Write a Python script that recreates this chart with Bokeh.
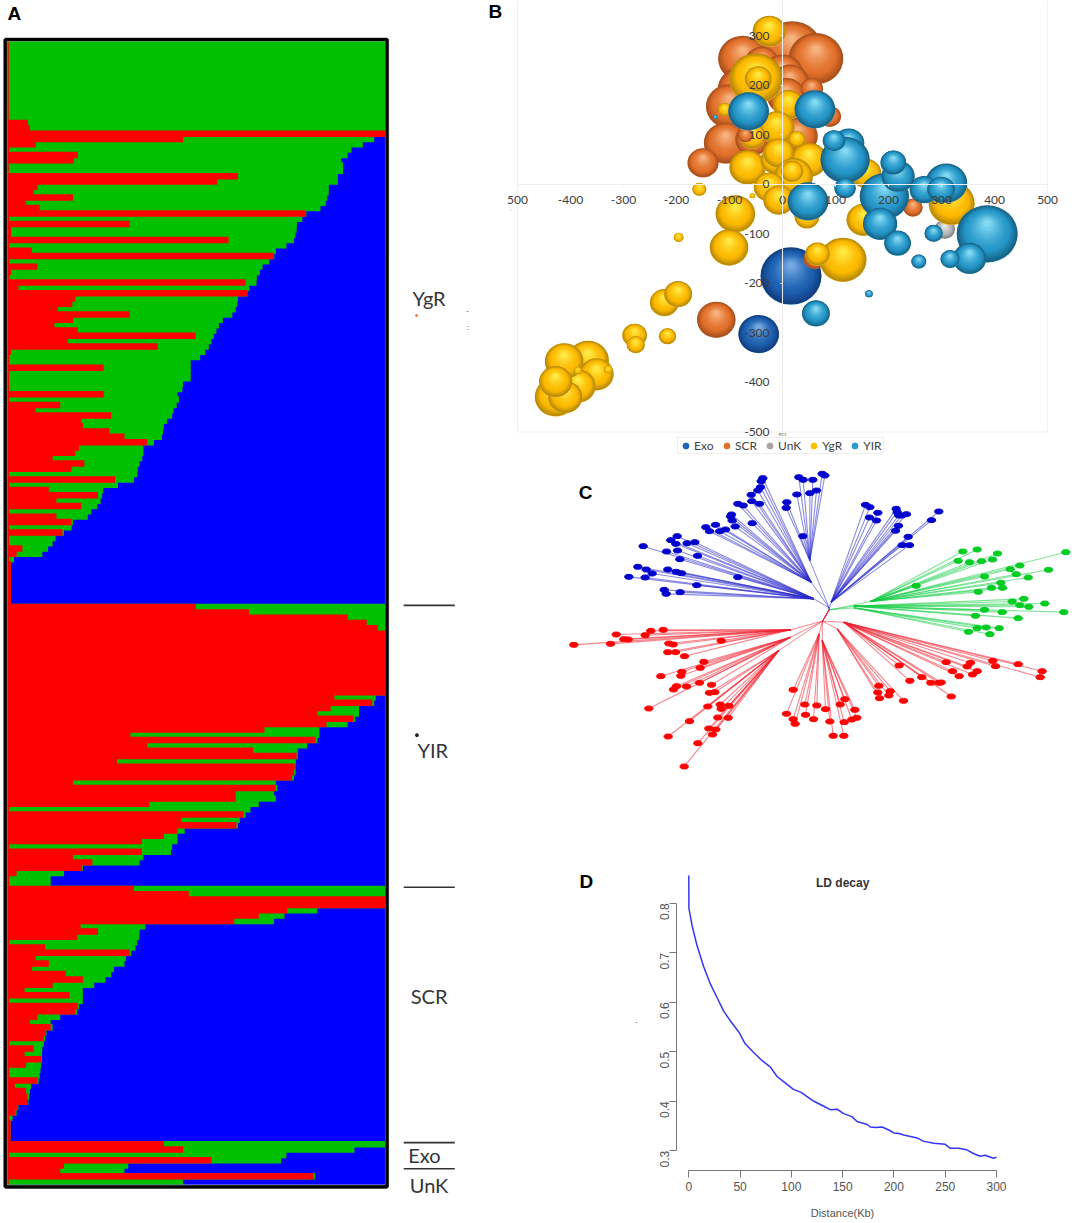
from bokeh.core.properties import value
from bokeh.embed import file_html
from bokeh.layouts import column, row
from bokeh.models import ColumnDataSource, FixedTicker, Legend, LegendItem, LinearAxis, Range1d
from bokeh.plotting import figure
from bokeh.resources import INLINE
import math

# Panel A - admixture bars, percent reached by red and by red + green in each row
ygr_red = [0.4] * 15 + [
    5.5, 6, 100, 46.5, 7.6, 0.5, 18.7, 17.6, 0.4, 0.4, 61, 55.5, 8, 7, 17.4, 5, 8.6, 79, 0.5, 32.4,
    1, 1, 58.5, 0.5, 6.5, 70.5, 0.5, 8, 1, 0.5, 63, 3, 63.4, 18, 17.2, 13.4, 32.4, 17.4,
    12.5, 18.7, 49.8, 16, 39.8, 1, 0.5, 0.5, 25.5, 0.5, 0.5, 0.5, 0.5, 25.5, 0.5, 14, 7.5, 27.5, 19.6, 20,
    27, 31, 37, 19, 18, 12, 20.4, 17, 0.5, 28.5, 0.5, 11, 24, 13, 19.6, 0.5, 13, 17, 0.5, 14.6,
    0.5, 0.5, 4, 2.5, 0.5,
] + [1] * 8
ygr_green = [100] * 15 + [
    100, 100, 100, 97, 94, 91, 90, 88.3, 88.8, 88.8, 87.4, 87.4, 85, 85, 84.6, 84.2, 82.8, 79.1, 78, 76.6,
    76.5, 76.2, 75.8, 73.8, 71, 70.6, 69.3, 67.5, 66.8, 66, 65.9, 64, 63.5, 61, 60.8, 60.4, 59.5, 57,
    56, 55.3, 54.6, 54, 53.3, 52.4, 51, 48.5, 48.5, 48.5, 48.5, 46.5, 46.3, 45, 45.4, 44.8, 44, 43.6, 42.3, 41.4,
    41.2, 40.9, 38.8, 36, 36, 35.7, 35, 34.5, 34.4, 33.5, 29.3, 25.4, 25.1, 24.7, 23.8, 22.2, 21.3, 17.4, 17, 15,
    12.8, 12, 10.8, 9.3, 1.8,
] + [1] * 8
yir_red = [49.9, 63.9, 90, 95, 98] + [100] * 12 + [
    86.5, 96.5, 85.5, 82, 91.5, 84.4, 68, 32.6, 81.5, 37, 65, 76.5, 29, 76, 75.8, 75.3, 17.4, 71, 60.4, 60.4,
    37.5, 0.5, 62.4, 46, 60.6, 45, 41.4, 35.6, 0.5, 35.6, 17.4, 22.5, 19.8, 2.5, 0.5, 0.5,
]
yir_green = [100] * 17 + [
    97.4, 97, 93, 93, 92, 90, 82.5, 82.5, 82, 79.3, 76.8, 76.8, 76.3, 76.2, 76.2, 75.8, 71, 71.4, 70.5, 71,
    66.5, 64.3, 63, 61.5, 61, 46.9, 45, 45, 43.6, 43.3, 36, 35, 20, 15, 11.5, 11.5,
]
scr_red = [
    33.5, 48, 100, 100, 74, 66.5, 60, 19.4, 24, 18.5, 0.5, 10, 32.4, 7.5, 11, 6.6, 15.5, 20, 12, 4.6,
    16.5, 0.5, 18.7, 18, 8, 6, 11.5, 10.2, 9.7, 0.5, 7, 4.6, 9, 5, 0.5, 0.5, 8, 2, 5, 5.3,
    5.5, 2.8, 2.2, 0.5, 0.9, 0.9, 0.9, 0.9,
]
scr_green = [
    100, 100, 100, 100, 82, 73.3, 70.5, 36.5, 35, 34.9, 34.4, 33.9, 32.8, 31.4, 31, 28.2, 27.5, 26, 23, 20,
    20, 20, 19, 18.5, 14, 11.5, 12, 10.4, 10, 9.7, 9.3, 9.2, 9.2, 9, 8.8, 8.6, 8.3, 6.3, 6, 5.8,
    5.6, 3, 2.5, 1.4, 0.9, 0.9, 0.9, 0.9,
]
exo_red = [41.4, 46.5, 0.5, 54, 15, 14, 81, 0.4]
exo_green = [100, 91.8, 73.8, 72.4, 32, 31, 81.4, 46.5]

group_labels = ["YgR", "YIR", "SCR", "Exo", "UnK"]
group_label_rows = [48.5, 133.3, 179.7, 209.6, 215.2]
group_rule_rows = [106.2, 159.2, 207.2, 212.1]

# Panel B - PCA bubbles, (PC1, PC2, radius), in drawing order
bub_exo_x = [16, -45]
bub_exo_y = [-186, -303]
bub_exo_r = [57, 38]
bub_scr_x = [18, 63, -75, -39, 0, 14, -78, -100, 7, 55, 89, -107, 29, -57, -150, 246, -125, 61]
bub_scr_y = [272, 253, 253, 245, 222, 205, 191, 157, 178, 193, 137, 83, 97, 90, 43, -47, -274, -150]
bub_scr_r = [56, 51, 46, 32, 39, 36, 44, 44, 36, 21, 21, 41, 37, 32, 29, 18, 36, 21]
bub_unk_x = [306]
bub_unk_y = [-91]
bub_unk_r = [19]
bub_ygr_x = [-25, -50, -46, 11, -109, -11, -57, 27, 50, -66, -14, -7, 21, 18, -25, -157, -57, -7, -89, 46,
             -101, -196, 157, 153, 319, 114, 66, -223, -197, -279, -277, -217,
             -428, -367, -351, -386, -410, -412, -428, -329, -386]
bub_ygr_y = [309, 213, 213, 161, 151, 114, 97, 91, 49, 34, 49, 63, 16, 26, -6, -10, -23, -32, -60, -66,
             -128, -107, 22, -72, -39, -153, -141, -239, -222, -305, -324, -307,
             -430, -356, -384, -408, -430, -358, -399, -374, -376]
bub_ygr_r = [31, 50, 25, 29, 13, 33, 25, 16, 34, 34, 27, 29, 36, 21, 29, 13, 5, 29, 37, 23,
             36, 9, 29, 32, 43, 44, 23, 27, 26, 23, 17, 16,
             39, 39, 32, 33, 32, 36, 31, 8, 7]
bub_scr_top_x = [-70, -77]
bub_scr_top_y = [99, 111]
bub_scr_top_r = [14, 3]
bub_yir_x = [-64, 61, -127, 125, 118, 97, 118, 192, 218, 209, 48, 309, 267, 299, 184, 217, 285, 386, 353, 316, 257, 163, 63]
bub_yir_y = [147, 151, 136, 83, 49, 88, -8, -25, 16, 44, -35, 2, -11, -11, -80, -119, -99, -101, -150, -151, -156, -221, -261]
bub_yir_r = [38, 38, 4, 29, 46, 21, 20, 46, 31, 24, 38, 39, 27, 26, 32, 25, 17, 57, 31, 18, 14, 7, 26]

pca_ticks = [-500, -400, -300, -200, -100, 0, 100, 200, 300, 400, 500]
legend_names = ["Exo", "SCR", "UnK", "YgR", "YIR"]
legend_colors = ["#1f64b4", "#e2702a", "#a5a5a5", "#ffc000", "#2a9bd0"]

# Panel C - tree tips, with the fan node each group of tips joins
blue_fans = [
    ((760, 385), [(350, 197), (331, 209), (346, 220), (380, 218), (403, 215), (248, 227), (318, 243), (351, 240),
                  (411, 256), (358, 266), (232, 289), (257, 297), (275, 309), (322, 297), (347, 304), (363, 308),
                  (205, 319), (254, 321), (532, 320), (409, 344), (311, 358), (317, 370), (359, 365)]),
    ((752, 335), [(607, 23), (602, 32), (600, 50), (592, 60), (572, 73), (574, 92), (532, 100), (548, 105), (597, 100),
                  (513, 132), (510, 138), (515, 150), (575, 158), (465, 163), (436, 170), (447, 182), (524, 168),
                  (495, 177), (478, 182)]),
    ((748, 270), [(785, 10), (793, 15), (715, 20), (728, 28), (757, 28), (768, 60), (748, 68), (709, 72), (679, 95),
                  (677, 112), (727, 197)]),
    ((812, 395), [(915, 103), (928, 110), (952, 127), (927, 141), (948, 150), (1007, 115), (1010, 125), (1015, 135),
                  (1024, 135), (1038, 131), (1014, 166), (1005, 181), (1135, 123), (1113, 149), (1043, 199),
                  (1025, 224), (1047, 224)]),
]
green_fans = [
    ((930, 393), [(1207, 243), (1250, 237), (1193, 271), (1227, 275), (1263, 272), (1296, 267), (1311, 249), (1516, 245),
                  (1378, 285), (1349, 296), (1464, 298), (1367, 311), (1272, 318), (1403, 321), (1321, 337), (1067, 346),
                  (1293, 352), (1326, 352), (1253, 364)]),
    ((880, 407), [(1390, 385), (1355, 393), (1453, 399), (1378, 404), (1405, 409), (1272, 418), (1325, 425), (1510, 425),
                  (1245, 436), (1373, 443)]),
    ((880, 412), [(1250, 473), (1277, 471), (1316, 473), (1224, 484), (1288, 491)]),
]
red_fans = [
    ((690, 478), [(308, 478), (271, 481), (167, 492), (254, 494), (190, 506), (203, 507), (150, 520), (40, 523),
                  (482, 511), (325, 519), (338, 522), (322, 545), (345, 545), (372, 557)]),
    ((690, 500), [(430, 574), (419, 592), (364, 604), (361, 616), (301, 617), (348, 647), (339, 657), (378, 648),
                  (417, 637), (453, 643), (265, 714)]),
    ((655, 540), [(447, 667), (463, 665), (479, 702), (442, 708), (482, 715), (505, 706), (472, 741), (503, 742),
                  (387, 752), (445, 774), (466, 777), (456, 792), (323, 798), (412, 818), (371, 888)]),
    ((776, 490), [(698, 658), (678, 730), (733, 702), (698, 746), (735, 733), (704, 760), (769, 705), (759, 746)]),
    ((785, 510), [(795, 716), (808, 753), (818, 796), (850, 796), (851, 755), (839, 702), (853, 686), (883, 718),
                  (874, 747), (889, 742)]),
    ((830, 475), [(955, 646), (989, 662), (952, 666), (985, 675), (957, 683), (1029, 691)]),
    ((850, 455), [(1016, 585), (1048, 631), (1084, 620), (1111, 637), (1135, 637), (1142, 636), (1172, 678),
                  (1157, 575), (1176, 602), (1196, 617), (1230, 577), (1220, 588), (1250, 602), (1236, 612),
                  (1297, 571), (1305, 587), (1373, 581), (1445, 602), (1439, 620)]),
]
blue_root = (806, 412)
green_root = (808, 418)
red_root = (786, 452)
tree_hub = (806, 418)

# Panel D - LD decay curve
ld_dist = [0, 0.1, 3.2, 8, 14.6, 21, 27.6, 34, 40.6, 48.7, 55, 63, 71.5, 79.6, 86, 94, 102, 109.5, 115, 122,
           131.6, 138, 144.6, 151, 159, 164, 174, 177, 182, 188.5, 195, 200, 205, 209.6, 222.6, 229, 239, 250,
           255, 263, 271, 278, 284, 289, 297, 300]
ld_r2 = [0.856, 0.79, 0.755, 0.7145, 0.671, 0.637, 0.609, 0.582, 0.562, 0.54, 0.516, 0.499, 0.482, 0.469, 0.45,
         0.437, 0.424, 0.418, 0.41, 0.40, 0.39, 0.383, 0.384, 0.375, 0.369, 0.359, 0.353, 0.348, 0.347, 0.348,
         0.342, 0.336, 0.335, 0.332, 0.326, 0.319, 0.315, 0.313, 0.305, 0.305, 0.302, 0.294, 0.289, 0.291, 0.285, 0.287]
ld_xticks = [0, 50, 100, 150, 200, 250, 300]
ld_yticks = [0.3, 0.4, 0.5, 0.6, 0.7, 0.8]

LETTER_FONT = value("Liberation Sans")
LABEL_FONT = value("Lato")
R_FONT = value("Liberation Sans")


def bare(width, height, x_range, y_range):
    f = figure(width=width, height=height, x_range=x_range, y_range=y_range, output_backend="svg",
               toolbar_location=None, x_axis_location=None, y_axis_location=None, min_border=0)
    f.outline_line_color = None
    f.grid.visible = False
    return f


# ---- Panel A
pa = bare(480, 1223, Range1d(-1.77, 125.1), Range1d(222.4, -7.52))
red_ends = ygr_red + yir_red + scr_red + exo_red
green_ends = ygr_green + yir_green + scr_green + exo_green
# rows overlap by just over a pixel, otherwise the svg shows seams between them
row_top = [r - 0.1 for r in range(len(red_ends))]
row_bottom = [r + 1.12 for r in range(len(red_ends))]
pa.quad(left=0, right=100, top=row_top, bottom=row_bottom, fill_color="#0000ff", line_color=None)
pa.quad(left=0, right=green_ends, top=row_top, bottom=row_bottom, fill_color="#00c000", line_color=None)
pa.quad(left=0, right=red_ends, top=row_top, bottom=row_bottom, fill_color="#ff0000", line_color=None)
pa.quad(left=[-0.5], right=[100.4], top=[-0.19], bottom=[215.5], fill_alpha=0, line_color="#999999", line_width=4.2)
pa.quad(left=[-0.5], right=[100.4], top=[-0.19], bottom=[215.5], fill_alpha=0, line_color="#000000", line_width=3.2)
pa.segment(x0=[104.8] * 4, x1=[118.3] * 4, y0=group_rule_rows, y1=group_rule_rows, line_color="#333333", line_width=1.6)
pa.text(x=[111.5, 112.5, 111.5, 110.3, 111.5], y=group_label_rows, text=group_labels, text_font=LABEL_FONT,
        text_font_size="20px", text_color="#33363d", text_align="center", text_baseline="middle")
pa.text(x=[0.1], y=[-5.1], text=["A"], text_font=LETTER_FONT, text_font_style="bold", text_font_size="19px",
        text_color="#000000", text_baseline="middle")
pa.scatter(x=[108.2, 108.3], y=[51.7, 130.6], size=[2, 3], color=["#e8703a", "#222222"])
pa.text(x=[121.7, 121.8], y=[50.9, 53.9], text=["-", ":"], text_font=LABEL_FONT, text_font_size="7px",
        text_color="#333333", text_align="center", text_baseline="middle")

# ---- Panel B
pb = bare(592, 460, Range1d(-569.8, 547), Range1d(-557.6, 371.7))


def mix(c0, c1, t):
    a = [int(c0[i:i + 2], 16) for i in (1, 3, 5)]
    b = [int(c1[i:i + 2], 16) for i in (1, 3, 5)]
    return "#%02x%02x%02x" % tuple(round(a[i] + (b[i] - a[i]) * t) for i in range(3))


SHADES = {
    "exo": ("#4d8fe0", "#123f80", "#1c5fb0", "#7fb4e8"),
    "scr": ("#f3a06a", "#a8501e", "#e2702a", "#f8bb8a"),
    "unk": ("#dddddd", "#7c7c7c", "#b4b4b4", "#f0f0f0"),
    "ygr": ("#ffd24a", "#b88a08", "#fdb900", "#fff04d"),
    "yir": ("#4fb4e0", "#186488", "#2596c9", "#8fe2f8"),
}
LAYERS = 15
sx, sy, sw, sh, sc = [], [], [], [], []


def add_bubbles(xs, ys, rs, shade):
    bottom_rim, rim, mid, high = SHADES[shade]
    for x, y, r in zip(xs, ys, rs):
        sx.append(x)
        sy.append(y)
        sw.append(2 * r)
        sh.append(2 * r)
        sc.append(bottom_rim)
        for i in range(LAYERS):
            t = i / (LAYERS - 1)
            s = 0.97 * (1 - t) ** 0.85 + 0.04
            sx.append(x)
            sy.append(y + r * (0.03 + (1 - s) * 0.42))
            sw.append(2 * r * s)
            sh.append(2 * r * s)
            sc.append(mix(rim, mid, t / 0.3) if t < 0.3 else mix(mid, high, ((t - 0.3) / 0.7) ** 1.5))


add_bubbles(bub_exo_x, bub_exo_y, bub_exo_r, "exo")
add_bubbles(bub_scr_x, bub_scr_y, bub_scr_r, "scr")
add_bubbles(bub_unk_x, bub_unk_y, bub_unk_r, "unk")
add_bubbles(bub_ygr_x, bub_ygr_y, bub_ygr_r, "ygr")
add_bubbles(bub_scr_top_x, bub_scr_top_y, bub_scr_top_r, "scr")
add_bubbles(bub_yir_x, bub_yir_y, bub_yir_r, "yir")

pb.quad(left=[-500], right=[500], top=[600], bottom=[-500], fill_alpha=0, line_color="#f0f0f0", line_width=1)
pb.ellipse(x="x", y="y", width="w", height="h", fill_color="c", line_color=None,
           source=ColumnDataSource(data={"x": sx, "y": sy, "w": sw, "h": sh, "c": sc}))

pc1_text = {t: str(t) for t in pca_ticks}
pc1_text[-500] = "500"  # the leftmost label has lost its minus in the original
pc2_text = {t: str(t) for t in pca_ticks}
pc1_axis = LinearAxis(fixed_location=0, ticker=FixedTicker(ticks=pca_ticks), major_label_overrides=pc1_text,
                      bounds=(-500, 500))
pc2_axis = LinearAxis(fixed_location=0, ticker=FixedTicker(ticks=pca_ticks), major_label_overrides=pc2_text,
                      bounds=(-500, 500))
for ax in (pc1_axis, pc2_axis):
    ax.axis_line_color = "#eeeeee"
    ax.major_tick_line_color = "#eeeeee"
    ax.minor_tick_line_color = None
    ax.major_tick_in = 0
    ax.major_tick_out = 2
    ax.major_label_text_font = "Lato"
    ax.major_label_text_font_size = "12px"
    ax.major_label_text_color = "#3c3c3c"
pc1_axis.major_label_standoff = 10
pc2_axis.major_label_standoff = 11
pb.add_layout(pc1_axis, "below")
pb.add_layout(pc2_axis, "left")

legend_items = []
for name, col in zip(legend_names, legend_colors):
    dot = pb.scatter(x=[-9000], y=[-9000], size=7, color=col)
    legend_items.append(LegendItem(label=name, renderers=[dot]))
pb.add_layout(Legend(items=legend_items, location=(197, 6), orientation="horizontal", padding=0, margin=0, spacing=5,
                     glyph_width=15, glyph_height=15, label_height=11, label_standoff=1,
                     label_text_font="Lato", label_text_font_size="12px", label_text_color="#444444",
                     border_line_color="#dddddd", background_fill_color="#ffffff", background_fill_alpha=1))
pb.text(x=[-542], y=[349], text=["B"], text_font=LETTER_FONT, text_font_style="bold", text_font_size="19px",
        text_color="#000000", text_align="center", text_baseline="middle")
pb.text(x=[0, -513], y=[-505, -50], text=["PC1", ":"], text_font=LABEL_FONT, text_font_size="4px", text_color="#444444",
        text_align="center", text_baseline="middle")

# ---- Panel C
pc = bare(592, 340, Range1d(-240, 1536), Range1d(990, -30))


def fan_lines(fans):
    xs, ys, tx, ty = [], [], [], []
    for node, tips in fans:
        for tip in tips:
            xs.append([tip[0], node[0]])
            ys.append([tip[1], node[1]])
            tx.append(tip[0])
            ty.append(tip[1])
    return xs, ys, tx, ty


for fans, root, line_col, tip_col in (
    (blue_fans, blue_root, "#2a2acc", "#0000cc"),
    (green_fans, green_root, "#12cc44", "#00cc22"),
    (red_fans, red_root, "#f02030", "#ff0000"),
):
    xs, ys, tx, ty = fan_lines(fans)
    pc.multi_line(xs=xs, ys=ys, line_color=line_col, line_alpha=0.55, line_width=1.1)
    pc.multi_line(xs=[[f[0][0], root[0], tree_hub[0]] for f in fans], ys=[[f[0][1], root[1], tree_hub[1]] for f in fans],
                  line_color=line_col, line_alpha=0.55, line_width=1)
    pc.ellipse(x=tx, y=ty, width=25, height=15, color=tip_col)
pc.text(x=[75], y=[65], text=["C"], text_font=LETTER_FONT, text_font_style="bold", text_font_size="19px",
        text_color="#000000", text_align="center", text_baseline="middle")

# ---- Panel D
pd_fig = bare(592, 423, Range1d(-203.1, 374.1), Range1d(0.1531, 1.0075))
pd_fig.line(ld_dist, ld_r2, line_color="#3535f5", line_width=1.5)
dist_axis = LinearAxis(fixed_location=0.2602, ticker=FixedTicker(ticks=ld_xticks), bounds=(0, 300),
                       axis_label="Distance(Kb)")
r2_axis = LinearAxis(fixed_location=-12, ticker=FixedTicker(ticks=ld_yticks), bounds=(0.3, 0.8),
                     major_label_orientation=math.pi / 2)
for ax in (dist_axis, r2_axis):
    ax.axis_line_color = "#777777"
    ax.major_tick_line_color = "#777777"
    ax.minor_tick_line_color = None
    ax.major_tick_in = 0
    ax.major_tick_out = 7
    ax.major_label_text_font = "Liberation Sans"
    ax.major_label_text_font_size = "12px"
    ax.major_label_text_color = "#555555"
dist_axis.major_label_standoff = 5
r2_axis.major_label_standoff = 5
dist_axis.axis_label_text_font = "Liberation Sans"
dist_axis.axis_label_text_font_size = "11px"
dist_axis.axis_label_text_font_style = "normal"
dist_axis.axis_label_text_color = "#555555"
dist_axis.axis_label_standoff = 12
pd_fig.add_layout(dist_axis, "below")
pd_fig.add_layout(r2_axis, "left")
pd_fig.text(x=[150], y=[0.8 + 20.7 / 495], text=["LD decay"], text_font=R_FONT, text_font_style="bold",
            text_font_size="12px", text_color="#333333", text_align="center", text_baseline="middle")
pd_fig.text(x=[-100], y=[0.8 + (902.7 - 881) / 495], text=["D"], text_font=LETTER_FONT, text_font_style="bold",
            text_font_size="19px", text_color="#000000", text_align="center", text_baseline="middle")
pd_fig.text(x=[-51], y=[0.565], text=["."], text_font=R_FONT, text_font_size="9px", text_color="#444444",
            text_align="center", text_baseline="middle")

right = column(pb, pc, pd_fig, spacing=0)
p = row(pa, right, spacing=0, margin=0)

open("out.html", "w").write(file_html(p, INLINE))
